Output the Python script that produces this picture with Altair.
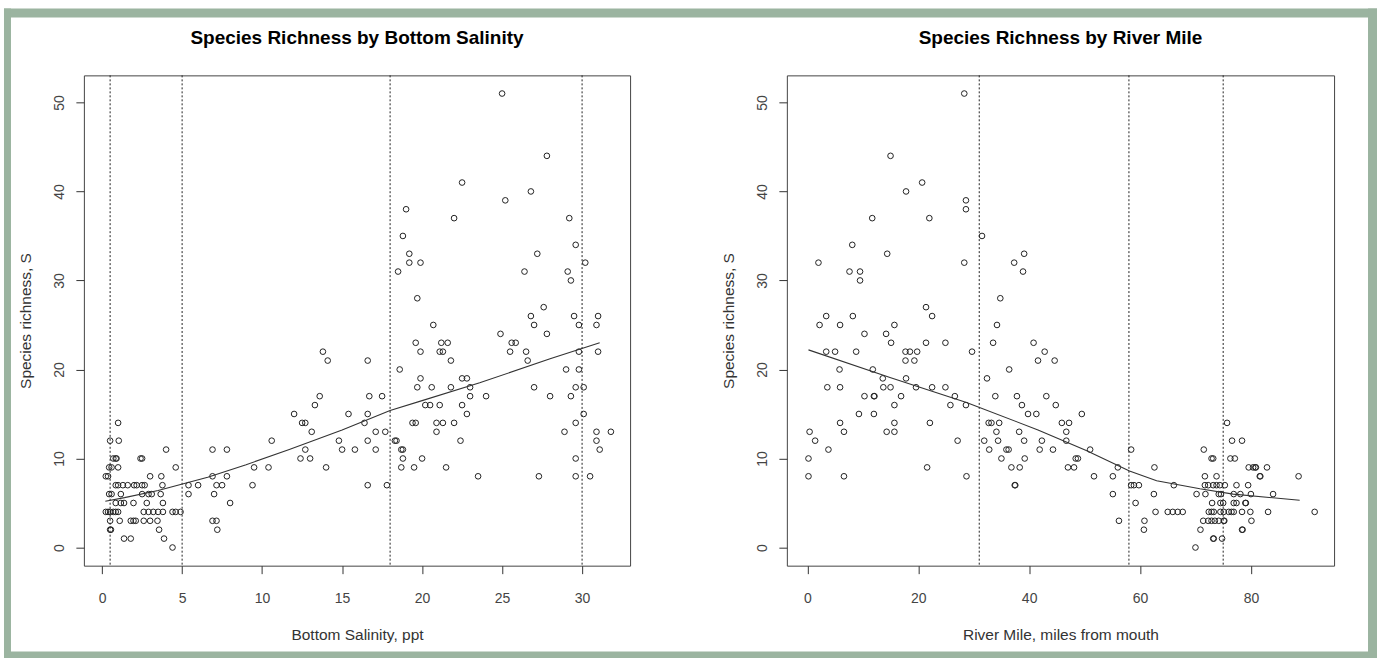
import altair as alt
import pandas as pd

# ---------------- data ----------------
# Left panel: species richness levels and the bottom-salinity values of the samples at each level
sal_levels = [51, 44, 41, 40, 39, 38, 37, 35, 34, 33, 32, 31, 30, 28, 27, 26, 25, 24, 23, 22,
              21, 20, 19, 18, 17, 16, 15, 14, 13, 12, 11, 10, 9, 8, 7, 6, 5, 4, 3, 2, 1, 0]
sal_values = [
    [25.0], [27.8], [22.5], [26.8], [25.2], [19.0], [22.0, 29.2], [18.8], [29.6],
    [19.2, 27.2], [19.2, 19.9, 30.2], [18.5, 26.4, 29.1], [29.3], [19.7], [27.6],
    [26.8, 29.5, 31.0], [20.7, 27.0, 29.8, 30.9], [24.9, 27.8],
    [19.6, 21.2, 21.6, 25.6, 25.85],
    [13.8, 19.9, 21.1, 21.3, 25.5, 26.5, 29.8, 31.0],
    [14.1, 16.6, 21.8, 26.6], [18.6, 29.0, 29.8], [19.9, 22.5, 22.8],
    [19.7, 20.6, 21.8, 23.0, 27.0, 29.6, 30.1],
    [13.6, 16.7, 17.5, 23.0, 24.0, 28.0, 29.3],
    [13.3, 20.2, 20.5, 21.1, 22.5],
    [12.0, 15.4, 16.6, 22.8, 30.1],
    [1.0, 12.5, 12.7, 16.4, 19.4, 19.6, 20.9, 21.3, 22.0, 29.6],
    [13.1, 17.1, 17.7, 20.9, 28.9, 30.9, 31.8],
    [0.5, 1.04, 10.6, 14.8, 16.6, 18.3, 18.4, 22.4, 30.9],
    [4.0, 6.9, 7.8, 12.7, 15.0, 15.8, 17.1, 18.7, 18.8, 31.1],
    [0.7, 0.85, 0.9, 2.4, 2.5, 12.4, 13.0, 18.8, 20.0, 29.6],
    [0.44, 0.59, 1.0, 4.6, 9.5, 10.4, 14.0, 18.7, 19.5, 21.5],
    [0.23, 0.37, 3.0, 3.7, 6.9, 7.8, 23.5, 27.3, 29.6, 30.5],
    [0.85, 1.0, 1.3, 1.6, 2.0, 2.16, 2.5, 2.66, 3.77, 5.4, 6.0, 7.15, 7.5, 9.4, 16.6, 17.8],
    [0.44, 0.59, 1.17, 2.5, 2.9, 3.1, 3.66, 5.4, 7.0],
    [0.85, 1.17, 1.37, 1.96, 2.79, 3.8, 8.0],
    [0.23, 0.37, 0.5, 0.7, 0.85, 1.0, 2.6, 2.9, 3.2, 3.5, 3.8, 4.4, 4.6, 4.9],
    [0.5, 1.1, 1.79, 1.96, 2.1, 2.6, 3.0, 3.46, 6.9, 7.15],
    [0.5, 0.55, 3.56, 7.2], [1.37, 1.79, 3.87], [4.4],
]
sal_smooth_x = [0.2, 1.4, 3.5, 6.6, 9.0, 11.7, 15.0, 18.0, 20.0, 23.6, 28.0, 31.1]
sal_smooth_y = [5.2, 5.6, 6.4, 7.9, 9.3, 11.0, 13.2, 15.4, 16.5, 18.5, 21.2, 23.0]
sal_cuts = [0.5, 5, 18, 30]
sal_ticks = [0, 5, 10, 15, 20, 25, 30]

# Right panel: species richness levels and river-mile values of the samples at each level
rm_levels = sal_levels
rm_values = [
    [28.3], [15.0], [20.7], [17.8], [28.6], [28.6], [11.7, 22.0], [31.5], [8.1],
    [14.4, 39.1], [2.0, 28.3, 37.3], [7.6, 9.5, 38.9], [9.5], [34.8], [21.4],
    [3.4, 8.2, 22.5], [2.2, 5.9, 15.7, 34.2], [10.3, 14.2],
    [15.1, 21.4, 24.9, 33.5, 40.8],
    [3.4, 5.0, 8.8, 17.7, 18.5, 19.8, 29.7, 42.8],
    [17.7, 19.3, 41.6, 44.6], [5.8, 11.8, 36.4], [13.6, 17.8, 32.4],
    [3.6, 5.9, 13.7, 15.0, 19.6, 22.5, 24.9],
    [10.3, 12.0, 12.1, 16.9, 26.6, 33.9, 37.8, 43.1],
    [15.7, 25.8, 28.6, 38.7, 44.8],
    [9.3, 12.0, 39.8, 41.3, 49.5],
    [5.9, 15.7, 22.1, 32.7, 33.2, 34.6, 45.9, 47.2, 75.7],
    [0.4, 6.6, 14.3, 15.7, 34.1, 38.2, 46.7],
    [1.4, 27.1, 31.9, 34.4, 39.1, 42.3, 46.7, 76.6, 78.4],
    [3.8, 32.8, 35.9, 36.3, 41.9, 44.3, 51.0, 58.4, 71.5],
    [0.2, 35.0, 39.2, 48.4, 48.8, 72.9, 73.2, 76.3, 77.1],
    [21.6, 36.8, 38.3, 47.0, 48.1, 56.0, 62.6, 79.6, 80.4, 80.8, 80.9, 82.9],
    [0.2, 6.6, 28.7, 51.7, 55.1, 71.7, 73.8, 81.6, 81.7, 88.6],
    [37.4, 37.5, 58.4, 58.9, 59.8, 66.1, 71.7, 72.3, 73.2, 73.8, 74.4, 75.3, 77.4, 79.5],
    [55.1, 62.5, 70.2, 71.8, 74.2, 74.6, 76.9, 78.1, 80.0, 84.0],
    [59.2, 73.0, 74.5, 75.0, 76.9, 77.4, 79.0, 79.1],
    [62.8, 65.0, 65.9, 66.8, 67.7, 72.4, 72.9, 73.3, 74.5, 75.1, 76.0, 76.5, 76.9, 78.4, 79.9, 83.1, 91.5],
    [56.2, 60.8, 71.4, 72.3, 72.9, 73.5, 74.2, 75.1, 75.2, 80.1],
    [60.7, 70.9, 78.4, 78.5], [73.2, 73.3, 74.8], [70.0],
]
rm_smooth_x = [0.2, 14.9, 28.7, 41.6, 50.3, 58.1, 63.0, 70.8, 76.8, 88.8]
rm_smooth_y = [22.2, 19.1, 16.3, 13.2, 10.9, 8.6, 7.5, 6.6, 6.0, 5.3]
rm_cuts = [31, 58, 75]
rm_ticks = [0, 20, 40, 60, 80]

y_ticks = [0, 10, 20, 30, 40, 50]

# ---------------- styling ----------------
W_LEFT, W_RIGHT, H = 547, 548, 491
FRAME_GREEN = "#9bb4a0"
FONT = "Liberation Sans, Arial"
INK = "#333333"


def points_df(levels, values):
    xs, ys = [], []
    for lvl, vals in zip(levels, values):
        for v in vals:
            xs.append(v)
            ys.append(lvl)
    return pd.DataFrame({"x": xs, "y": ys})


def x_axis(title, ticks):
    return alt.Axis(
        title=title, values=ticks, format="d", grid=False, domain=False,
        ticks=True, tickSize=8, tickColor=INK, tickWidth=1,
        labelFont=FONT, labelFontSize=14, labelColor="#444444",
        labelPadding=29, labelBaseline="alphabetic", labelAlign="center",
        labelFlush=False, labelOverlap=False,
        titleFont=FONT, titleFontSize=15.5, titleFontWeight="normal",
        titleColor=INK, titleY=74, titleBaseline="alphabetic", titleAlign="center",
    )


def y_axis(title):
    return alt.Axis(
        title=title, values=y_ticks, format="d", grid=False, domain=False,
        ticks=True, tickSize=8, tickColor=INK, tickWidth=1,
        labelFont=FONT, labelFontSize=14, labelColor="#444444",
        labelAngle=270, labelAlign="center", labelBaseline="alphabetic",
        labelPadding=12, labelFlush=False, labelOverlap=False,
        titleFont=FONT, titleFontSize=15.5, titleFontWeight="normal",
        titleColor=INK, titleAngle=270, titleX=-53, titleY=H / 2,
        titleAlign="center", titleBaseline="alphabetic",
    )


def panel(title, xtitle, levels, values, sx, sy, cuts, ticks, xdom, width, frame=False):
    xs = alt.Scale(domain=xdom, nice=False, zero=False)
    ys = alt.Scale(domain=[-2.04, 53.04], nice=False, zero=False)
    xenc = alt.X("x:Q", scale=xs, axis=x_axis(xtitle, ticks))
    yenc = alt.Y("y:Q", scale=ys, axis=y_axis("Species richness, S"))

    pts = alt.Chart(points_df(levels, values)).mark_point(
        shape="circle", filled=False, size=32, strokeWidth=1, color="#222222", opacity=1
    ).encode(x=xenc, y=yenc)
    line = alt.Chart(pd.DataFrame({"x": sx, "y": sy})).mark_line(
        color=INK, strokeWidth=1.1
    ).encode(x=xenc, y=yenc)
    rules = alt.Chart(pd.DataFrame({"x": cuts})).mark_rule(
        color="#222222", strokeWidth=1, strokeDash=[2, 2]
    ).encode(x=xenc)
    heading = alt.Chart(pd.DataFrame({"t": [title]})).mark_text(
        font=FONT, fontSize=19, fontWeight="bold", color="black",
        align="center", baseline="alphabetic",
    ).encode(text="t:N", x=alt.value(width / 2), y=alt.value(-31))

    layers = []
    if frame:
        one = pd.DataFrame({"k": [0]})
        # page frame (decoration), positioned in pixels relative to this plot's origin (83, 74)
        boxes = [
            ("white", -83, 1295, -74, -67),
            ("white", -83, -80, -74, 584),
            (FRAME_GREEN, -80, 1295, -67, -58),
            (FRAME_GREEN, -80, -73, -67, 584),
            (FRAME_GREEN, 1286, 1295, -67, 584),
            (FRAME_GREEN, -80, 1295, 577, 584),
        ]
        for col, x0, x1, y0, y1 in boxes:
            layers.append(
                alt.Chart(one).mark_rect(color=col).encode(
                    x=alt.value(x0), x2=alt.value(x1), y=alt.value(y0), y2=alt.value(y1)
                )
            )
    layers += [rules, pts, line, heading]
    return alt.layer(*layers).properties(width=width, height=H)


left = panel("Species Richness by Bottom Salinity", "Bottom Salinity, ppt",
             sal_levels, sal_values, sal_smooth_x, sal_smooth_y, sal_cuts, sal_ticks,
             [-1.14, 33.0], W_LEFT, frame=True)
right = panel("Species Richness by River Mile", "River Mile, miles from mouth",
              rm_levels, rm_values, rm_smooth_x, rm_smooth_y, rm_cuts, rm_ticks,
              [-3.7, 95.0], W_RIGHT)

chart = alt.hconcat(left, right, spacing=157, bounds="flush").properties(
    padding=0, background="white"
).configure_view(stroke="#444444", strokeWidth=1)

chart.save("out.html", embed_options={"renderer": "svg", "actions": False})
